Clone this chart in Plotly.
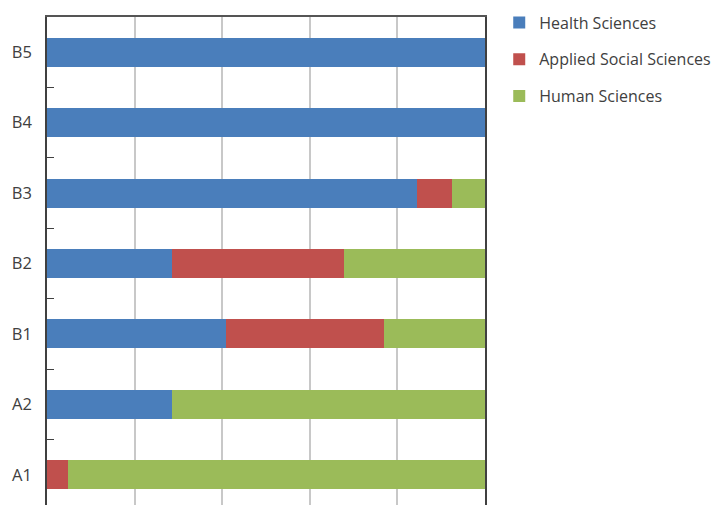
import plotly.graph_objects as go

categories = ["A1", "A2", "B1", "B2", "B3", "B4", "B5"]
health = [0, 28.6, 40.9, 28.6, 84.4, 100, 100]
applied = [4.7, 0, 36.1, 39.1, 8.1, 0, 0]
human = [95.3, 71.4, 23.0, 32.3, 7.5, 0, 0]

series_names = ["Health Sciences", "Applied Social Sciences", "Human Sciences"]
series_values = [health, applied, human]
colors = ["#4a7ebb", "#c0504d", "#9bbb59"]

fig = go.Figure()
for i, (name, vals, col) in enumerate(zip(series_names, series_values, colors)):
    fig.add_trace(go.Bar(
        y=categories, x=vals, name=name, orientation="h",
        marker=dict(color=col, line=dict(width=0)),
        legendgroup=f"g{i}",
    ))

font_family = "Open Sans, DejaVu Sans, sans-serif"
fig.update_layout(
    width=721, height=505,
    margin=dict(l=38.5, r=243.5, t=8.5, b=3, autoexpand=False),
    barmode="stack",
    bargap=0.59,
    plot_bgcolor="white",
    paper_bgcolor="white",
    font=dict(family=font_family, size=16.5, color="#404040"),
    legend=dict(
        x=1.0325, y=1.0233, xanchor="left", yanchor="top",
        traceorder="grouped", tracegroupgap=13,
        font=dict(size=16, color="#404040"),
        bgcolor="rgba(0,0,0,0)",
    ),
    xaxis=dict(
        range=[0, 100], dtick=20, side="top",
        showgrid=True, gridcolor="#c8c8c8", gridwidth=1.5,
        showticklabels=False, ticks="", zeroline=False,
        showline=True, linecolor="#555555", linewidth=1.5,
        fixedrange=True, automargin=False,
    ),
    yaxis=dict(
        type="category", categoryorder="array", categoryarray=categories,
        range=[-0.5, 6.5], automargin=False,
        ticks="inside", tickson="boundaries", ticklen=7, tickcolor="#404040", tickwidth=1,
        showline=True, mirror=True, linecolor="#404040", linewidth=1.5,
        showgrid=False, ticklabelstandoff=10,
        tickfont=dict(size=16.5, color="#404040"),
    ),
)

fig.write_html("out.html")
